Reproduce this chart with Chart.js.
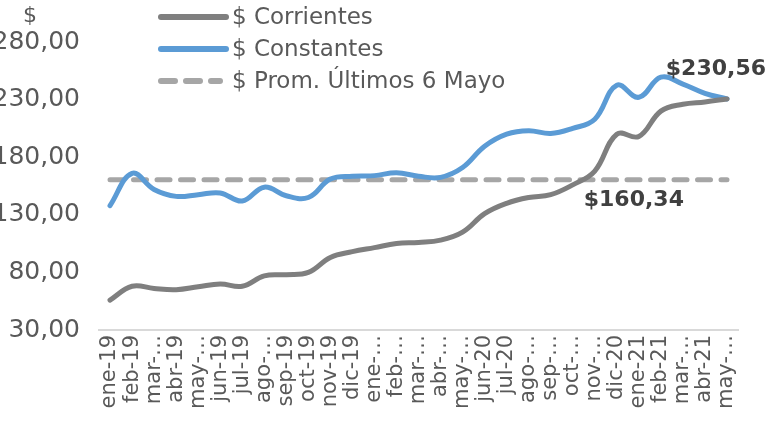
<!DOCTYPE html>
<html>
<head>
<meta charset="utf-8">
<script src="https://cdn.jsdelivr.net/npm/chart.js@4"></script>
<style>
  body { margin: 0; background: #fff; }
  #wrap { width: 765px; height: 421px; position: relative; }
</style>
</head>
<body>
<div id="wrap"><canvas id="chart"></canvas></div>
<script>
// meses (etiquetas tal como aparecen en el eje)
const months = ['ene-19', 'feb-19', 'mar-…', 'abr-19', 'may-…', 'jun-19', 'jul-19', 'ago-…', 'sep-19', 'oct-19',
  'nov-19', 'dic-19', 'ene-…', 'feb-…', 'mar-…', 'abr-…', 'may-…', 'jun-20', 'jul-20', 'ago-…',
  'sep-…', 'oct-…', 'nov-…', 'dic-20', 'ene-21', 'feb-21', 'mar-…', 'abr-21', 'may-…'];

const corrientes = [56, 68, 66, 65, 67.5, 70, 68, 77, 78, 80,
  93, 98, 101.5, 105, 106, 108, 115, 131, 140, 145,
  147.5, 156, 168, 200, 198, 220, 226, 228, 230.56];

const constantes = [138, 166, 152, 146, 147.5, 149, 142, 154, 146.5, 145,
  161, 163.5, 164, 166.5, 163.5, 162.5, 171, 189.5, 200, 203,
  200.5, 205, 213, 242.5, 232, 249.5, 243.5, 235.5, 230.56];

const promedio = 160.34;
const promLine = months.map(() => promedio);

const yTicks = [30, 80, 130, 180, 230, 280];

const seriesNames = ['$ Corrientes', '$ Constantes', '$ Prom. Últimos 6 Mayo'];

const FONT = '"DejaVu Sans", sans-serif';
const TEXT = '#595959';

// leyenda vertical, etiquetas y el "$" del eje
const extras = {
  id: 'extras',
  afterDraw(chart) {
    const ctx = chart.ctx;
    ctx.save();
    ctx.font = '22px ' + FONT;
    ctx.fillStyle = TEXT;
    ctx.textBaseline = 'middle';
    ctx.textAlign = 'center';
    ctx.fillText('$', 30, 16);

    ctx.font = '23px ' + FONT;
    const rows = [17, 49, 81];
    chart.data.datasets.forEach((ds, i) => {
      ctx.beginPath();
      ctx.strokeStyle = ds.borderColor;
      ctx.lineWidth = 6;
      ctx.lineCap = 'round';
      ctx.setLineDash(ds.borderDash && ds.borderDash.length ? [14, 11] : []);
      ctx.moveTo(161, rows[i]);
      ctx.lineTo(i === 2 ? 220 : 226, rows[i]);
      ctx.stroke();
      ctx.setLineDash([]);
      ctx.textAlign = 'left';
      ctx.fillStyle = TEXT;
      ctx.fillText(ds.label, 232, rows[i] + 1);
    });

    ctx.font = 'bold 22px ' + FONT;
    ctx.fillStyle = '#404040';
    const last = chart.getDatasetMeta(1).data[constantes.length - 1];
    ctx.textAlign = 'right';
    ctx.fillText('$' + constantes[constantes.length - 1].toFixed(2).replace('.', ','), 766, last.y - 30);

    const pm = chart.getDatasetMeta(2).data[24];
    ctx.textAlign = 'center';
    ctx.fillText('$' + promedio.toFixed(2).replace('.', ','), pm.x - 5, pm.y + 20);
    ctx.restore();
  }
};

new Chart(document.getElementById('chart'), {
  type: 'line',
  data: {
    labels: months,
    datasets: [
      {
        label: seriesNames[0],
        data: corrientes,
        borderColor: '#7f7f7f',
        borderWidth: 5,
        tension: 0.4,
        pointRadius: 0,
        borderCapStyle: 'round'
      },
      {
        label: seriesNames[1],
        data: constantes,
        borderColor: '#5b9bd5',
        borderWidth: 5,
        tension: 0.4,
        pointRadius: 0,
        borderCapStyle: 'round'
      },
      {
        label: seriesNames[2],
        data: promLine,
        borderColor: '#a6a6a6',
        borderWidth: 5,
        borderDash: [13, 10.5],
        borderCapStyle: 'round',
        pointRadius: 0
      }
    ]
  },
  options: {
    responsive: true,
    maintainAspectRatio: false,
    animation: false,
    layout: { padding: { top: 42, right: 27, left: 0, bottom: 0 } },
    plugins: {
      legend: { display: false },
      tooltip: { enabled: false }
    },
    scales: {
      x: {
        offset: true,
        grid: { display: false, drawTicks: false },
        border: { display: true, color: '#d9d9d9', width: 2 },
        afterFit(scale) { scale.height = 91; },
        ticks: {
          autoSkip: false,
          maxRotation: 90,
          minRotation: 90,
          padding: 5,
          color: TEXT,
          font: { family: FONT, size: 21 }
        }
      },
      y: {
        min: 30,
        max: 280,
        afterFit(scale) { scale.width = 99; },
        afterBuildTicks(scale) { scale.ticks = yTicks.map(v => ({ value: v })); },
        grid: { display: false, drawTicks: false },
        border: { display: false },
        ticks: {
          padding: 19,
          color: TEXT,
          font: { family: FONT, size: 25 },
          callback: v => v.toFixed(2).replace('.', ',')
        }
      }
    }
  },
  plugins: [extras]
});
</script>
</body>
</html>
